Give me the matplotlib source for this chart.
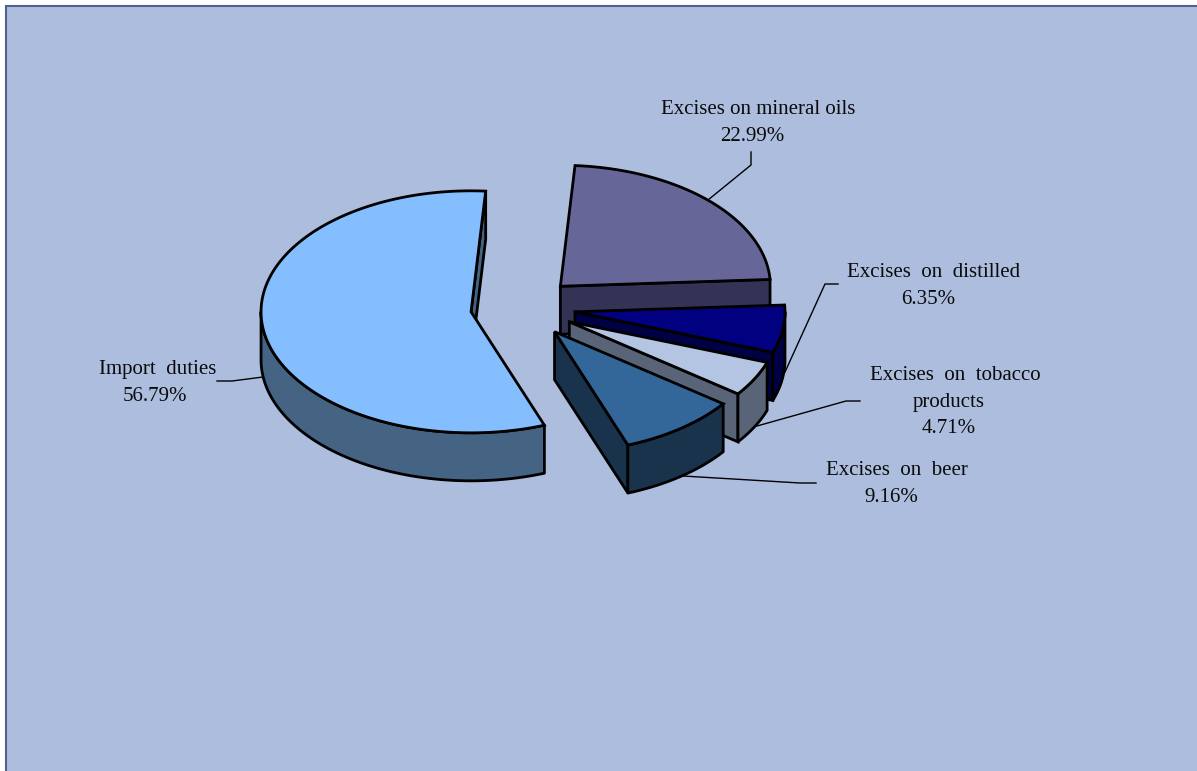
import numpy as np
import matplotlib
matplotlib.use("Agg")
import matplotlib.pyplot as plt
from matplotlib.patches import Polygon, Rectangle

### Data ###
shares = [22.99, 6.35, 4.71, 9.16, 56.79]
label_lines = [
    ["Excises on mineral oils", "22.99%"],
    ["Excises  on  distilled", "6.35%"],
    ["Excises  on  tobacco", "products", "4.71%"],
    ["Excises  on  beer", "9.16%"],
    ["Import  duties", "56.79%"],
]
top_colors = ["#666699", "#000080", "#B4C4E3", "#336699", "#85BEFF"]
side_colors = ["#333355", "#000045", "#5A6478", "#1A334D", "#456382"]

W, H = 1197, 771
bg = "#ADBDDE"
cx, cy = 523, 307.5
rx, ry = 210, 121
depth = 48
explode = 52.5
first_angle = 4.0


def rim(theta, ox, oy, dz=0):
    t = np.radians(theta)
    return np.column_stack([ox + rx * np.sin(t), oy - ry * np.cos(t) + dz])


def draw_slice(ax, start, stop, top, side):
    mid = np.radians((start + stop) / 2)
    ox = cx + explode * np.sin(mid)
    oy = cy - explode * np.cos(mid) * ry / rx
    lw = 2.0

    # cut face on the clockwise end of the slice
    end = rim(stop, ox, oy)[0]
    face = [(ox, oy), end, end + [0, depth], (ox, oy + depth)]
    ax.add_patch(Polygon(face, fc=side, ec="black", lw=lw, joinstyle="miter"))

    # outer wall, only where it faces the viewer
    a, b = max(start, 90), min(stop, 270)
    if b > a:
        th = np.linspace(a, b, 120)
        wall = np.vstack([rim(th, ox, oy), rim(th[::-1], ox, oy, depth)])
        ax.add_patch(Polygon(wall, fc=side, ec="black", lw=lw, joinstyle="round"))

    th = np.linspace(start, stop, 240)
    pts = np.vstack([[ox, oy], rim(th, ox, oy)])
    ax.add_patch(Polygon(pts, fc=top, ec="black", lw=lw, joinstyle="miter"))


fig = plt.figure(figsize=(W / 100, H / 100), dpi=100, facecolor="white")
ax = fig.add_axes([0, 0, 1, 1])
ax.set_xlim(0, W)
ax.set_ylim(H, 0)
ax.axis("off")
ax.add_patch(Rectangle((5.5, 5.5), W, H, fc=bg, ec="#4F6390", lw=1.5))

angle = first_angle
for share, top, side in zip(shares, top_colors, side_colors):
    sweep = share / sum(shares) * 360
    draw_slice(ax, angle, angle + sweep, top, side)
    angle += sweep

# leader lines
leaders = [
    [(751, 152), (751, 165), (708, 200)],
    [(838, 284), (825, 284), (785, 372)],
    [(860, 401), (846, 401), (757, 426)],
    [(816, 483), (800, 483), (683, 476)],
    [(217, 381), (232, 381), (263, 377)],
]
for line in leaders:
    xs, ys = zip(*line)
    ax.plot(xs, ys, color="black", lw=1)

# first line centre, later line centre, first baseline, right clip edge
label_x = [758, 934, 955, 897, 158]
rest_x = [752, 928, 949, 891, 155]
label_y = [114, 277, 380, 475, 374]
clip_right = [854, 1020, 1040, 967, 300]
for lines, x, x2, y, right in zip(label_lines, label_x, rest_x, label_y, clip_right):
    for i, txt in enumerate(lines):
        t = ax.text(x if i == 0 else x2, y + 26.7 * i, txt, ha="center", va="baseline",
                    fontsize=15, family="Liberation Serif", color="#0A0A0A")
        t.set_clip_path(Rectangle((0, 0), right, H, transform=ax.transData))

fig.savefig("out.png", dpi=100, facecolor="white")
